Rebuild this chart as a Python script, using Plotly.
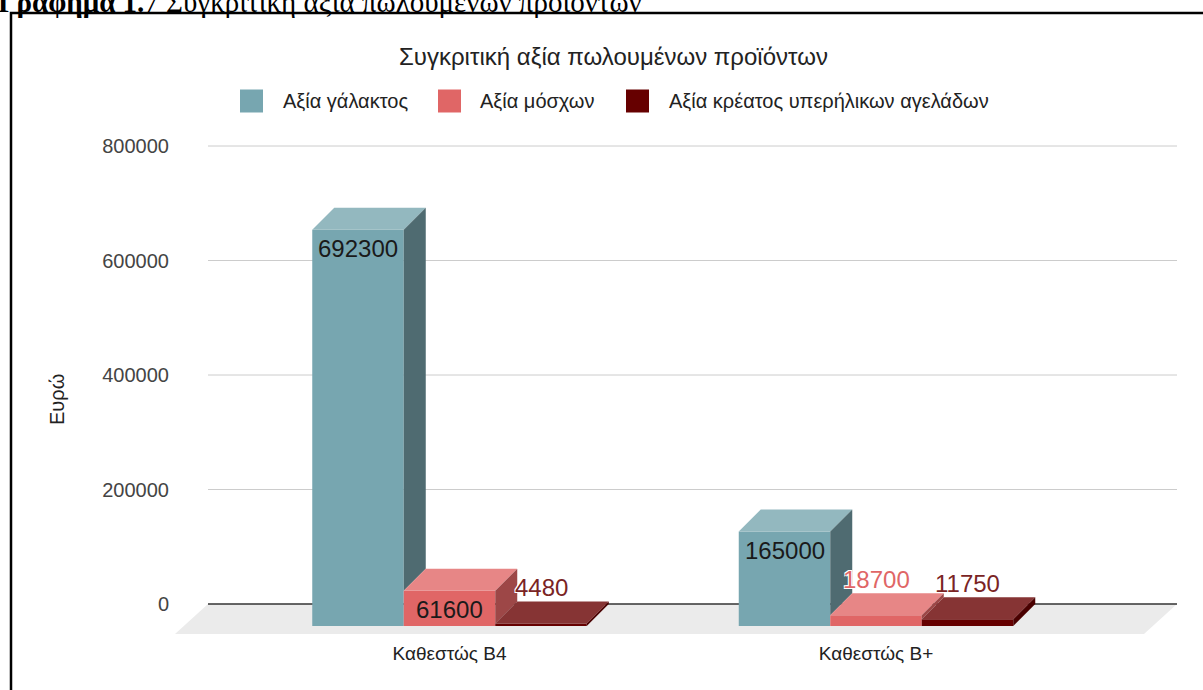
import plotly.graph_objects as go

# ---------------- data ----------------
categories = ["Καθεστώς Β4", "Καθεστώς Β+"]
series_names = ["Αξία γάλακτος", "Αξία μόσχων", "Αξία κρέατος υπερήλικων αγελάδων"]
milk_values = [692300, 165000]
calf_values = [61600, 18700]
meat_values = [4480, 11750]
y_tick_values = [0, 200000, 400000, 600000, 800000]
chart_title = "Συγκριτική αξία πωλουμένων προϊόντων"
y_title = "Ευρώ"
heading_bold = "Γράφημα 1."
heading_rest = "7 Συγκριτική αξία πωλουμένων προϊόντων"

series_values = [milk_values, calf_values, meat_values]

# ---------------- styles ----------------
front_colors = ["#77A6B0", "#E06666", "#660000"]
top_colors = ["#93B8BF", "#E78686", "#863434"]
side_colors = ["#4F6B71", "#9D4747", "#4A0000"]
outside_label_colors = ["#4F6B71", "#E06666", "#7A2424"]
FONT = "Arial, Liberation Sans, sans-serif"

# ---------------- geometry (pixel layout) ----------------
W, H = 1203, 690
L, R, T, B = 170, 13, 130, 50
PLOT_W = W - L - R
PLOT_H = H - T - B
PX_PER_X = 426.5            # pixels per category step
CAT0_PX = 449.5             # pixel x of first category (front plane)
PX_PER_Y = 458 / 800000     # pixels per euro
ZERO_PX = 604               # pixel y of zero on back plane
DEPTH_PX = 22               # 3D depth of bars
FLOOR_DX_PX, FLOOR_DY_PX = 33, 30
BACK_LEFT_PX, BACK_RIGHT_PX = 208, 1177
BAR_W = 91.5 / PX_PER_X

DX = DEPTH_PX / PX_PER_X
DY = DEPTH_PX / PX_PER_Y

x_range = [(L - CAT0_PX) / PX_PER_X, (W - R - CAT0_PX) / PX_PER_X]
y_range = [-(T + PLOT_H - ZERO_PX) / PX_PER_Y, (ZERO_PX - T) / PX_PER_Y]
back_x0 = (BACK_LEFT_PX - CAT0_PX) / PX_PER_X
back_x1 = (BACK_RIGHT_PX - CAT0_PX) / PX_PER_X


def paper_x(px):
    return (px - L) / PLOT_W


def paper_y(py):
    return (H - B - py) / PLOT_H


fig = go.Figure()
shapes = []
annotations = []

# floor
fdx = FLOOR_DX_PX / PX_PER_X
fdy = FLOOR_DY_PX / PX_PER_Y
shapes.append(dict(
    type="path", xref="x", yref="y", layer="below",
    path=f"M{back_x0},0 L{back_x1},0 L{back_x1 - fdx},{-fdy} L{back_x0 - fdx},{-fdy} Z",
    fillcolor="#EBEBEB", line=dict(width=0)))

# gridlines on back plane
for v in y_tick_values:
    shapes.append(dict(
        type="line", xref="x", yref="y", layer="below",
        x0=back_x0, x1=back_x1, y0=v, y1=v,
        line=dict(color="#333333" if v == 0 else "#CCCCCC", width=1.6 if v == 0 else 1)))

n_series = len(series_values)
inside_min = 30 / PX_PER_Y

for i, (name, vals) in enumerate(zip(series_names, series_values)):
    xs = [k + (i - (n_series - 1) / 2) * BAR_W for k in range(len(categories))]
    fig.add_trace(go.Bar(
        x=xs, y=vals, base=-DY, width=BAR_W, name=name,
        marker=dict(color=front_colors[i], line=dict(width=0)),
        showlegend=False, hovertemplate=name + ": %{y}<extra></extra>"))

    top_x, top_y, side_x, side_y = [], [], [], []
    for k, (xc, v) in enumerate(zip(xs, vals)):
        x0, x1 = xc - BAR_W / 2, xc + BAR_W / 2
        # top face
        top_x += [x0, x1, x1 + DX, x0 + DX, x0, None]
        top_y += [v - DY, v - DY, v, v, v - DY, None]
        # side face (hidden part below the next bar's top)
        low = 0
        if i + 1 < n_series:
            low = min(v, series_values[i + 1][k])
        if low < v:
            side_x += [x1, x1, x1 + DX, x1 + DX, x1, None]
            side_y += [low - DY, v - DY, v, low, low - DY, None]

        # data labels
        if v >= inside_min:
            annotations.append(dict(
                x=xc, y=v - DY, xref="x", yref="y", text=str(v), showarrow=False,
                xanchor="center", yanchor="middle", yshift=-19,
                font=dict(family=FONT, size=24, color="#1A1A1A")))
        else:
            annotations.append(dict(
                x=xc, y=v, xref="x", yref="y", text=str(v), showarrow=False,
                xanchor="center", yanchor="bottom", yshift=-2,
                font=dict(family=FONT, size=24, color=outside_label_colors[i],
                          shadow="1px 1px 0 #fff, -1px -1px 0 #fff, 1px -1px 0 #fff, -1px 1px 0 #fff")))

    fig.add_trace(go.Scatter(
        x=top_x, y=top_y, fill="toself", fillcolor=top_colors[i], mode="lines",
        line=dict(width=0, color=top_colors[i]), hoverinfo="skip", showlegend=False))
    if side_x:
        fig.add_trace(go.Scatter(
            x=side_x, y=side_y, fill="toself", fillcolor=side_colors[i], mode="lines",
            line=dict(width=0, color=side_colors[i]), hoverinfo="skip", showlegend=False))

# custom legend
legend_swatch_px = [240, 438, 626]
legend_text_px = [281, 478, 667]
LEG_Y = 101
for i, name in enumerate(series_names):
    sx = legend_swatch_px[i]
    shapes.append(dict(
        type="rect", xref="paper", yref="paper",
        x0=paper_x(sx), x1=paper_x(sx + 23), y0=paper_y(LEG_Y - 11.5), y1=paper_y(LEG_Y + 11.5),
        fillcolor=front_colors[i], line=dict(width=0)))
    annotations.append(dict(
        x=paper_x(legend_text_px[i]), y=paper_y(LEG_Y), xref="paper", yref="paper",
        text=name, showarrow=False, xanchor="left", yanchor="middle",
        font=dict(family=FONT, size=20, color="#222222")))

# y-axis title
annotations.append(dict(
    x=paper_x(57), y=paper_y(400), xref="paper", yref="paper", text=y_title,
    showarrow=False, textangle=-90, xanchor="center", yanchor="middle",
    font=dict(family=FONT, size=20, color="#222222")))

# chart title
annotations.append(dict(
    x=paper_x(613), y=paper_y(56), xref="paper", yref="paper", text=chart_title,
    showarrow=False, xanchor="center", yanchor="middle",
    font=dict(family=FONT, size=24, color="#222222")))

# document heading (cut off at the top, as in the source)
annotations.append(dict(
    x=paper_x(-4), y=paper_y(20), xref="paper", yref="paper",
    text=f"<b>{heading_bold}</b>{heading_rest}",
    showarrow=False, xanchor="left", yanchor="bottom",
    font=dict(family="Liberation Serif, Times New Roman, serif", size=29, color="#000000")))

# frame
shapes.append(dict(
    type="rect", xref="paper", yref="paper",
    x0=paper_x(11), x1=paper_x(W + 20), y0=paper_y(H + 20), y1=paper_y(13),
    line=dict(color="#000000", width=2.5), fillcolor="rgba(0,0,0,0)"))

fig.update_layout(
    width=W, height=H,
    margin=dict(l=L, r=R, t=T, b=B),
    paper_bgcolor="white", plot_bgcolor="white",
    barmode="overlay",
    shapes=shapes, annotations=annotations,
    xaxis=dict(range=x_range, tickvals=list(range(len(categories))), ticktext=categories,
               showgrid=False, zeroline=False, showline=False, ticks="",
               tickfont=dict(family=FONT, size=19, color="#222222"), fixedrange=True),
    yaxis=dict(range=y_range, tickvals=y_tick_values, ticktext=[str(v) for v in y_tick_values],
               showgrid=False, zeroline=False, showline=False, ticks="",
               tickfont=dict(family=FONT, size=20, color="#444444"), fixedrange=True),
    showlegend=False,
)

fig.write_html("out.html",
               config={"displayModeBar": False},
               post_script="document.body.style.margin='0';document.body.style.overflow='hidden';")
